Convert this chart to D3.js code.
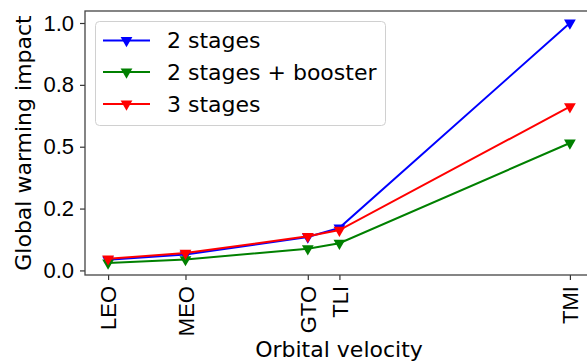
<!DOCTYPE html>
<html>
<head>
<meta charset="utf-8">
<script src="https://cdn.jsdelivr.net/npm/d3@7"></script>
<style>
  body { margin: 0; background: #fff; }
  svg { font-family: "DejaVu Sans", sans-serif; }
</style>
</head>
<body>
<div id="main"></div>
<script>
// orbits along the x axis and their position (approx. velocity)
const orbits = ['LEO', 'MEO', 'GTO', 'TLI', 'TMI'];
const orbitalVelocity = [9.4, 10.33, 11.8, 12.18, 14.95];

const seriesNames = ['2 stages', '2 stages + booster', '3 stages'];
const seriesColors = ['#0000ff', '#008000', '#ff0000'];
const twoStages = [0.043, 0.064, 0.135, 0.172, 1.0];
const twoStagesBooster = [0.030, 0.044, 0.088, 0.110, 0.515];
const threeStages = [0.047, 0.070, 0.138, 0.163, 0.662];

const yTicks = [0, 0.25, 0.5, 0.75, 1.0];
const yTickLabels = ['0.0', '0.2', '0.5', '0.8', '1.0'];

const width = 587, height = 362;
const plotLeft = 85, plotRight = 593, plotTop = 11, plotBottom = 275;

const svg = d3.select('#main').append('svg')
    .attr('width', width)
    .attr('height', height);

const xMin = d3.min(orbitalVelocity), xMax = d3.max(orbitalVelocity);
const xPad = (xMax - xMin) * 0.05;
const x = d3.scaleLinear()
    .domain([xMin - xPad, xMax + xPad])
    .range([plotLeft, plotRight]);

const allVals = twoStages.concat(twoStagesBooster, threeStages);
const yMin = d3.min(allVals), yMax = d3.max(allVals);
const yPad = (yMax - yMin) * 0.05;
const y = d3.scaleLinear()
    .domain([yMin - yPad, yMax + yPad])
    .range([plotBottom, plotTop]);

// axes
const xAxis = svg.append('g')
    .attr('transform', `translate(0, ${plotBottom})`)
    .call(d3.axisBottom(x)
        .tickValues(orbitalVelocity)
        .tickFormat((d, i) => orbits[i])
        .tickSize(5)
        .tickPadding(6));
xAxis.select('.domain').remove();
xAxis.selectAll('.tick line').attr('stroke', '#333').attr('stroke-width', 1.2);
xAxis.selectAll('.tick text')
    .attr('font-size', 22)
    .attr('fill', '#000')
    .attr('transform', 'rotate(-90)')
    .attr('text-anchor', 'end')
    .attr('x', -11)
    .attr('y', 0)
    .attr('dy', '0.35em');

const yAxis = svg.append('g')
    .attr('transform', `translate(${plotLeft}, 0)`)
    .call(d3.axisLeft(y)
        .tickValues(yTicks)
        .tickFormat((d, i) => yTickLabels[i])
        .tickSize(5)
        .tickPadding(6));
yAxis.select('.domain').remove();
yAxis.selectAll('.tick line').attr('stroke', '#333').attr('stroke-width', 1.2);
yAxis.selectAll('.tick text').attr('font-size', 22).attr('fill', '#000');

// spines
svg.append('rect')
    .attr('x', plotLeft)
    .attr('y', plotTop)
    .attr('width', plotRight - plotLeft)
    .attr('height', plotBottom - plotTop)
    .attr('fill', 'none')
    .attr('stroke', '#444')
    .attr('stroke-width', 1.3);

// axis labels
svg.append('text')
    .attr('x', (plotLeft + plotRight) / 2)
    .attr('y', 357)
    .attr('text-anchor', 'middle')
    .attr('font-size', 22)
    .text('Orbital velocity');

svg.append('text')
    .attr('transform', `translate(31, ${(plotTop + plotBottom) / 2}) rotate(-90)`)
    .attr('text-anchor', 'middle')
    .attr('font-size', 22)
    .text('Global warming impact');

// lines + markers
const seriesData = [twoStages, twoStagesBooster, threeStages];
const lineGen = d3.line()
    .x((d, i) => x(orbitalVelocity[i]))
    .y(d => y(d));

const tri = d3.symbol().type(d3.symbolTriangle).size(60);

seriesData.forEach((vals, s) => {
    svg.append('path')
        .attr('d', lineGen(vals))
        .attr('fill', 'none')
        .attr('stroke', seriesColors[s])
        .attr('stroke-width', 2);
    svg.append('g').selectAll('path')
        .data(vals)
        .enter()
        .append('path')
        .attr('d', tri)
        .attr('transform', (d, i) => `translate(${x(orbitalVelocity[i])}, ${y(d)}) rotate(180)`)
        .attr('fill', seriesColors[s]);
});

// legend
const legend = svg.append('g');
legend.append('rect')
    .attr('x', 95.5)
    .attr('y', 21.5)
    .attr('width', 290)
    .attr('height', 104)
    .attr('rx', 4)
    .attr('fill', 'rgba(255,255,255,0.8)')
    .attr('stroke', '#d0d0d0')
    .attr('stroke-width', 1);

const legendRows = [40.5, 72, 104];
seriesNames.forEach((name, s) => {
    const ly = legendRows[s];
    legend.append('line')
        .attr('x1', 103).attr('x2', 150)
        .attr('y1', ly).attr('y2', ly)
        .attr('stroke', seriesColors[s])
        .attr('stroke-width', 2);
    legend.append('path')
        .attr('d', tri)
        .attr('transform', `translate(126.5, ${ly}) rotate(180)`)
        .attr('fill', seriesColors[s]);
    legend.append('text')
        .attr('x', 167)
        .attr('y', ly)
        .attr('dy', '0.36em')
        .attr('font-size', 22)
        .text(name);
});
</script>
</body>
</html>
